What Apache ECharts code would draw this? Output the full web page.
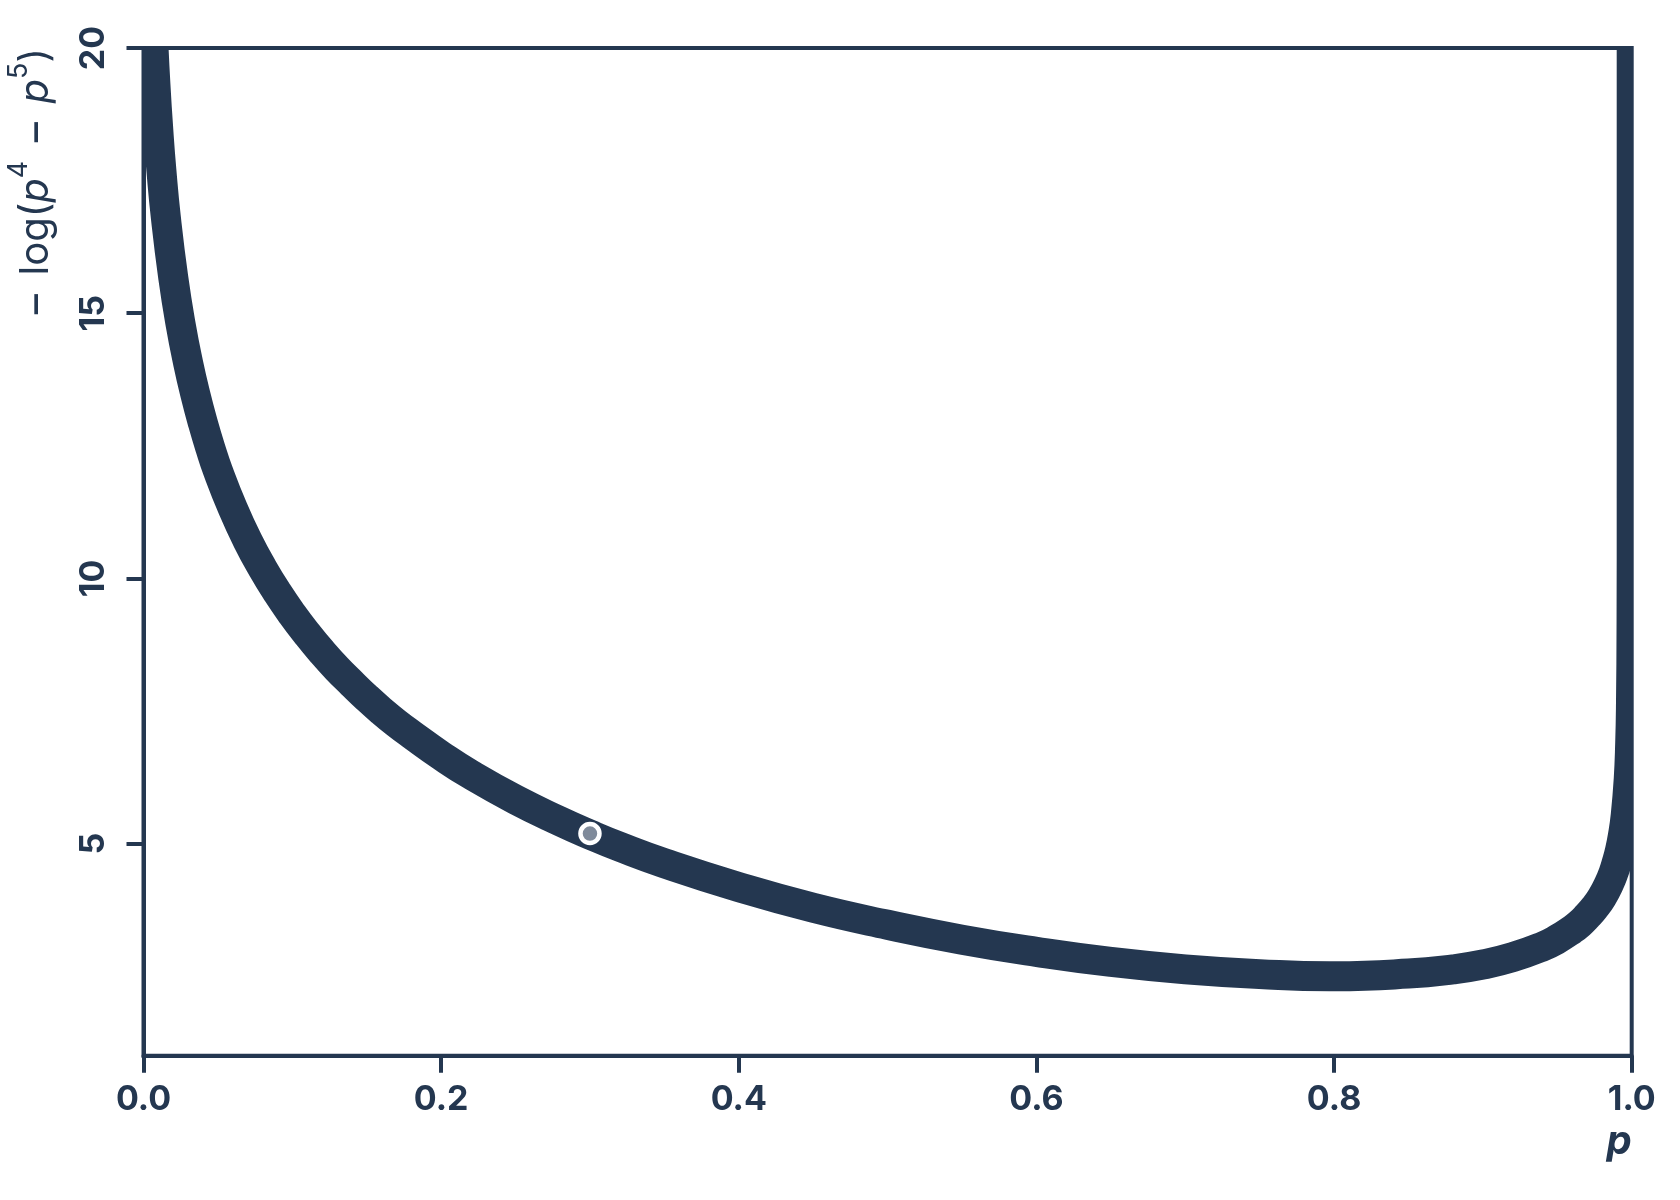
<!DOCTYPE html>
<html>
<head>
<meta charset="utf-8">
<script src="https://cdn.jsdelivr.net/npm/echarts@6/dist/echarts.min.js"></script>
<style>
  html, body { margin: 0; padding: 0; background: #ffffff; }
  #chart { width: 1680px; height: 1200px; }
</style>
</head>
<body>
<div id="chart"></div>
<script>
// ---- data ----
const pValues = [0.005, 0.0067, 0.008, 0.01, 0.012, 0.015, 0.02, 0.025, 0.03, 0.035, 0.04, 0.045, 0.05, 0.06, 0.07, 0.08, 0.09, 0.10, 0.11, 0.12, 0.13, 0.14, 0.15, 0.16, 0.17, 0.18, 0.20, 0.22, 0.25, 0.28, 0.30, 0.32, 0.35, 0.40, 0.45, 0.50, 0.55, 0.60, 0.65, 0.70, 0.75, 0.80, 0.85, 0.88, 0.90, 0.92, 0.94, 0.95, 0.96, 0.965, 0.97, 0.975, 0.98, 0.985, 0.988, 0.99, 0.992, 0.994, 0.996, 0.998, 0.999, 0.9995, 0.9999, 0.99999, 0.999999, 0.9999999, 0.99999999, 0.999999999];
const lossValues = [21.20, 20.03, 19.32, 18.43, 17.70, 16.81, 15.67, 14.78, 14.06, 13.45, 12.92, 12.45, 12.03, 11.32, 10.71, 10.19, 9.73, 9.32, 8.95, 8.61, 8.30, 8.02, 7.75, 7.50, 7.27, 7.06, 6.66, 6.30, 5.83, 5.42, 5.17, 4.94, 4.63, 4.18, 3.79, 3.47, 3.19, 2.96, 2.77, 2.63, 2.54, 2.50, 2.55, 2.63, 2.72, 2.86, 3.06, 3.20, 3.38, 3.49, 3.63, 3.79, 3.99, 4.26, 4.47, 4.65, 4.86, 5.14, 5.54, 6.22, 6.91, 7.60, 9.21, 11.51, 13.82, 16.12, 18.42, 20.72];
const markedPoint = [0.3, 5.19];
const xTickValues = [0, 0.2, 0.4, 0.6, 0.8, 1.0];
const yTickValues = [5, 10, 15, 20];

const NAVY = '#243750';
const curveData = pValues.map((p, i) => [p, lossValues[i]]);

const chart = echarts.init(document.getElementById('chart'), null, { renderer: 'canvas' });
chart.setOption({
  animation: false,
  backgroundColor: '#ffffff',
  grid: {
    left: 143.5, right: 48.3, top: 48, bottom: 144.2,
    show: true, borderColor: NAVY, borderWidth: 4, backgroundColor: 'transparent',
    containLabel: false, outerBoundsMode: 'none'
  },
  xAxis: {
    type: 'value', min: 0, max: 1,
    name: 'p', nameLocation: 'end', nameGap: 0, nameMoveOverlap: false,
    nameTextStyle: {
      fontFamily: 'Inter', fontSize: 40, fontWeight: 'bold', fontStyle: 'italic', color: NAVY,
      align: 'right', verticalAlign: 'top', padding: [66, 0, 0, 0]
    },
    axisLine: { show: true, onZero: false, lineStyle: { color: NAVY, width: 4 } },
    axisTick: { show: true, length: 17, customValues: xTickValues, lineStyle: { color: NAVY, width: 4 } },
    axisLabel: {
      customValues: xTickValues, margin: 27,
      fontFamily: 'Inter', fontSize: 34, fontWeight: 'bold', color: NAVY,
      formatter: v => v.toFixed(1)
    },
    splitLine: { show: false }
  },
  yAxis: {
    type: 'value', min: 1, max: 20,
    name: '{n|\u2212}{w| }{m|log(}{i|p}{s|4}{w| }{n|\u2212}{w| }{i|p}{s|5}{m|)}',
    nameLocation: 'end', nameGap: 0, nameRotate: 90, nameMoveOverlap: false,
    nameTextStyle: {
      color: NAVY, align: 'right', verticalAlign: 'bottom', padding: [0, 0, 78, 0],
      rich: {
        m: { fontFamily: 'Inter', fontSize: 40, lineHeight: 60, color: NAVY },
        n: { fontFamily: 'Inter', fontSize: 44, lineHeight: 60, color: NAVY },
        w: { fontFamily: 'Inter', fontSize: 50, lineHeight: 60, color: NAVY },
        i: { fontFamily: 'Inter', fontSize: 40, lineHeight: 60, fontStyle: 'italic', color: NAVY },
        s: { fontFamily: 'Inter', fontSize: 27, lineHeight: 27, verticalAlign: 'top', color: NAVY }
      }
    },
    axisLine: { show: true, onZero: false, lineStyle: { color: NAVY, width: 4 } },
    axisTick: { show: true, length: 17, customValues: yTickValues, lineStyle: { color: NAVY, width: 4 } },
    axisLabel: {
      customValues: yTickValues, margin: 33, rotate: 90,
      fontFamily: 'Inter', fontSize: 34, fontWeight: 'bold', color: NAVY
    },
    splitLine: { show: false }
  },
  series: [
    {
      type: 'custom',
      clip: true,
      z: 3,
      data: curveData,
      encode: { x: 0, y: 1 },
      renderItem: function (params, api) {
        if (params.dataIndex !== 0) return null;
        const pts = curveData.map(d => api.coord(d));
        return {
          type: 'polyline',
          shape: { points: pts, smooth: 0.5 },
          style: { fill: 'none', stroke: NAVY, lineWidth: 30, lineJoin: 'round', lineCap: 'butt' }
        };
      }
    },
    {
      type: 'scatter',
      z: 5,
      data: [markedPoint],
      symbol: 'circle',
      symbolSize: 19,
      itemStyle: { color: '#7f8a9a', borderColor: '#ffffff', borderWidth: 4.5, opacity: 1 }
    }
  ]
});
</script>
</body>
</html>
